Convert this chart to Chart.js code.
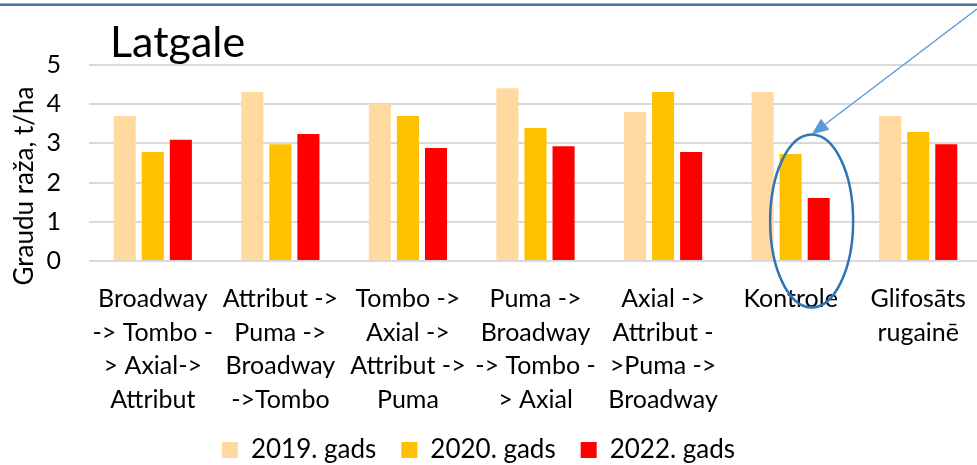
<!DOCTYPE html>
<html>
<head>
<meta charset="utf-8">
<script src="https://cdn.jsdelivr.net/npm/chart.js"></script>
<style>
  html, body { margin: 0; padding: 0; background: #fff; overflow: hidden; }
  #wrap { width: 982px; height: 465px; }
</style>
</head>
<body>
<div id="wrap"><canvas id="myChart"></canvas></div>
<script>
const chartTitle = "Latgale";
const yTitle = "Graudu raža, t/ha";
const categories = [
  ["Broadway", "-> Tombo -", "> Axial->", "Attribut"],
  ["Attribut ->", "Puma ->", "Broadway", "->Tombo"],
  ["Tombo ->", "Axial ->", "Attribut ->", "Puma"],
  ["Puma ->", "Broadway", "-> Tombo -", "> Axial"],
  ["Axial ->", "Attribut -", ">Puma ->", "Broadway"],
  ["Kontrole"],
  ["Glifosāts", "rugainē"],
];
const seriesNames = ["2019. gads", "2020. gads", "2022. gads"];
const values2019 = [3.70, 4.31, 4.00, 4.41, 3.80, 4.31, 3.70];
const values2020 = [2.78, 2.98, 3.70, 3.39, 4.31, 2.73, 3.29];
const values2022 = [3.09, 3.24, 2.88, 2.93, 2.78, 1.61, 2.98];
const yTicks = [0, 1, 2, 3, 4, 5];

const FONT = "Lato";
const LEGEND_SIZE = 26;
const LEGEND_PAD = 25;

// title, axis title, frame line, the circle and arrow around "Kontrole"
const decorations = {
  id: "decorations",
  afterLayout(chart) {
    // put the legend row where the original has it (centre y 450, a bit left of middle)
    const lg = chart.legend;
    lg.right -= 25;
    lg.top = 450 - LEGEND_PAD - LEGEND_SIZE / 2;
    lg.bottom = chart.height;
    lg.height = lg.bottom - lg.top;
  },
  afterDatasetsDraw(chart) {
    const ctx = chart.ctx;
    const area = chart.chartArea;
    ctx.save();
    ctx.fillStyle = "#9bb3d3";
    ctx.fillRect(0, 3, chart.width, 1);
    ctx.fillStyle = "#4672a4";
    ctx.fillRect(0, 4, chart.width, 2);

    ctx.fillStyle = "#000";
    ctx.font = "43px " + FONT;
    ctx.textAlign = "left";
    ctx.textBaseline = "alphabetic";
    ctx.fillText(chartTitle, 110, 57);

    ctx.translate(25, 186);
    ctx.rotate(-Math.PI / 2);
    ctx.font = "26px " + FONT;
    ctx.textAlign = "center";
    ctx.textBaseline = "middle";
    ctx.fillText(yTitle, 0, 0);
    ctx.restore();

    const cx = chart.scales.x.getPixelForValue(5) + 21;
    const cy = area.bottom - 40;
    const rx = 41.5, ry = 86.5;
    ctx.save();
    ctx.strokeStyle = "#2e75b6";
    ctx.lineWidth = 2.5;
    ctx.beginPath();
    ctx.ellipse(cx, cy, rx, ry, 0, 0, Math.PI * 2);
    ctx.stroke();

    const sx = 977, sy = 9, tx = cx, ty = cy - ry;
    const ang = Math.atan2(ty - sy, tx - sx);
    const len = 17, half = 7;
    const bx = tx - Math.cos(ang) * len, by = ty - Math.sin(ang) * len;
    ctx.strokeStyle = "#5b9bd5";
    ctx.fillStyle = "#5b9bd5";
    ctx.lineWidth = 1.5;
    ctx.beginPath();
    ctx.moveTo(sx, sy);
    ctx.lineTo(bx, by);
    ctx.stroke();
    ctx.beginPath();
    ctx.moveTo(tx, ty);
    ctx.lineTo(bx + Math.sin(ang) * half, by - Math.cos(ang) * half);
    ctx.lineTo(bx - Math.sin(ang) * half, by + Math.cos(ang) * half);
    ctx.closePath();
    ctx.fill();
    ctx.restore();
  },
};

new Chart("myChart", {
  type: "bar",
  data: {
    labels: categories,
    datasets: [
      { label: seriesNames[0], data: values2019, backgroundColor: "#ffd9a0" },
      { label: seriesNames[1], data: values2020, backgroundColor: "#ffc000" },
      { label: seriesNames[2], data: values2022, backgroundColor: "#ff0000" },
    ],
  },
  options: {
    responsive: true,
    maintainAspectRatio: false,
    animation: false,
    categoryPercentage: 0.66,
    barPercentage: 0.786,
    layout: { padding: { top: 65, left: 0, right: 0, bottom: 0 } },
    plugins: {
      title: { display: false },
      tooltip: { enabled: false },
      legend: {
        position: "bottom",
        maxHeight: 40,
        labels: {
          boxWidth: 16,
          boxHeight: 16,
          padding: LEGEND_PAD,
          color: "#000",
          font: { family: FONT, size: LEGEND_SIZE },
        },
      },
    },
    scales: {
      x: {
        grid: { display: false },
        border: { display: false },
        ticks: {
          autoSkip: false,
          maxRotation: 0,
          minRotation: 0,
          padding: 13,
          color: "#000",
          font: { family: FONT, size: 25, lineHeight: 1.35 },
        },
        afterFit(scale) { scale.height = 164; },
      },
      y: {
        min: yTicks[0],
        max: yTicks[yTicks.length - 1],
        grid: { color: "#d9d9d9", lineWidth: 2, drawTicks: false },
        border: { display: false },
        ticks: {
          padding: 28,
          color: "#000",
          font: { family: FONT, size: 25 },
        },
        afterBuildTicks(scale) { scale.ticks = yTicks.map(v => ({ value: v })); },
        afterFit(scale) { scale.width = 89; },
      },
    },
  },
  plugins: [decorations],
});
</script>
</body>
</html>
